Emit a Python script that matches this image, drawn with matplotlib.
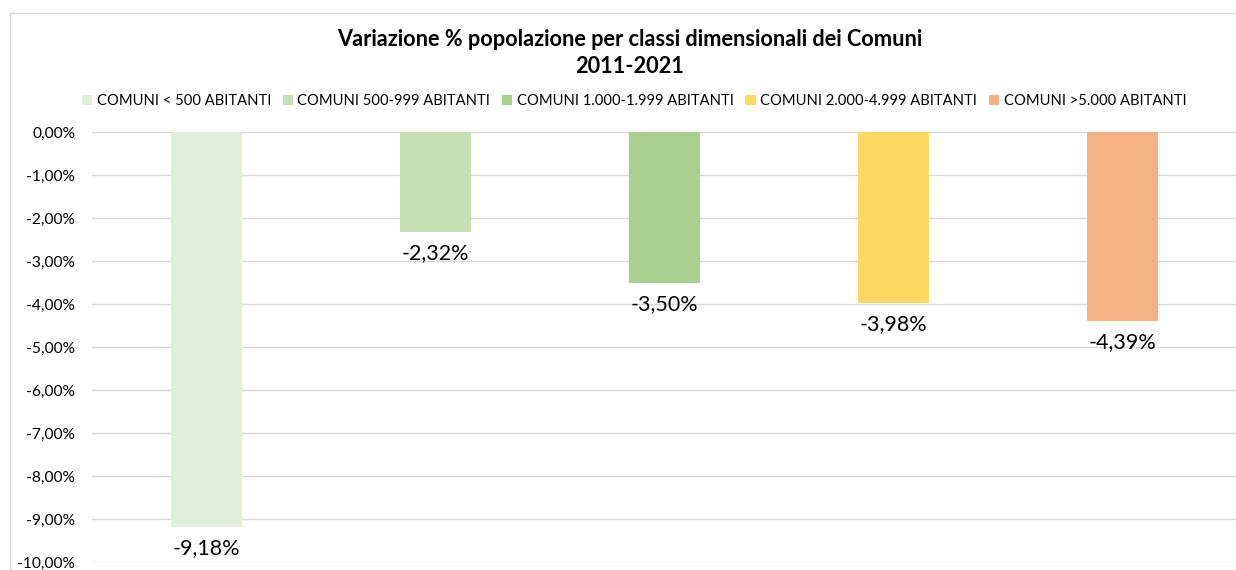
import matplotlib
matplotlib.use("Agg")
import matplotlib.pyplot as plt
from matplotlib.lines import Line2D
from matplotlib.ticker import FuncFormatter, MultipleLocator

plt.rcParams['font.family'] = ['Lato', 'DejaVu Sans']

categories = ["COMUNI < 500 ABITANTI", "COMUNI 500-999 ABITANTI", "COMUNI 1.000-1.999 ABITANTI",
              "COMUNI 2.000-4.999 ABITANTI", "COMUNI >5.000 ABITANTI"]
values = [-9.18, -2.32, -3.50, -3.98, -4.39]
colors = ["#E2EFDA", "#C6E0B4", "#A9D08E", "#FFD966", "#F4B183"]
title = "Variazione % popolazione per classi dimensionali dei Comuni\n2011-2021"

fig = plt.figure(figsize=(12.36, 5.7), dpi=100)
W, H = 1236, 570
ax = fig.add_axes([92 / W, 8 / H, 1145 / W, 430 / H])

handles = []
for i, (v, c, lab) in enumerate(zip(values, colors, categories)):
    b = ax.bar(i, v, width=0.312, color=c, label=lab, zorder=2)
    handles.append(b)
    ax.annotate(f"{v:.2f}%".replace(".", ","), xy=(i, v), xytext=(0, -8),
                textcoords="offset points", ha="center", va="top", fontsize=15.5, color="#000000")

ax.set_xlim(-0.5, len(values) - 0.5)
ax.set_ylim(-10, 0)
ax.yaxis.set_major_locator(MultipleLocator(1))
ax.yaxis.set_major_formatter(FuncFormatter(lambda v, p: f"{v:.2f}%".replace(".", ",")))
ax.grid(axis="y", color="#D9D9D9", linewidth=1, zorder=0)
ax.set_xticks([])
for s in ax.spines.values():
    s.set_visible(False)
ax.tick_params(axis="y", length=0, labelsize=11.2, pad=12, labelcolor="#000000")

fig.text(630 / W, 1 - 53 / H, title, ha="center", va="center", fontsize=15.7, fontweight="bold",
         linespacing=1.3)

fig.legend(handles=handles, labels=categories, loc="center", bbox_to_anchor=(634 / W, 1 - 101 / H),
           ncol=5, frameon=False, fontsize=10.6, handlelength=0.7, handleheight=0.7,
           handletextpad=0.3, columnspacing=0.8, borderaxespad=0)

fig.lines.append(Line2D([10 / W, 10 / W], [0, 1 - 13 / H], transform=fig.transFigure,
                        color="#D9D9D9", linewidth=1))
fig.lines.append(Line2D([10 / W, 1], [1 - 13 / H, 1 - 13 / H], transform=fig.transFigure,
                        color="#D9D9D9", linewidth=1))

fig.savefig("out.png", dpi=100)
